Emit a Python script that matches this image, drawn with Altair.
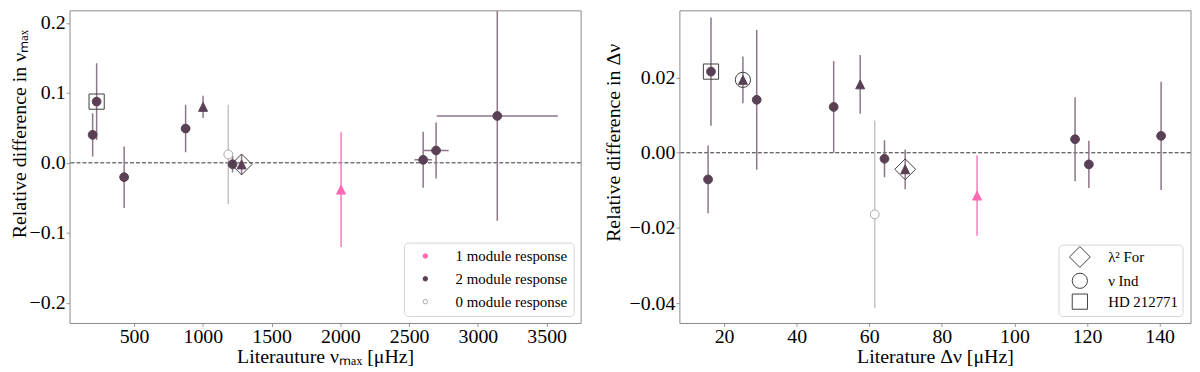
import altair as alt
import pandas as pd

# ---------------- left panel: nu_max ----------------
numax_lit = [199, 228, 428, 875, 1002, 1185, 1216, 1282, 2005, 2602, 2696, 3141]
numax_rel = [0.040, 0.0875, -0.0205, 0.049, 0.080, 0.012, -0.002, -0.0023, -0.0383, 0.0043, 0.0176, 0.067]
numax_yerr = [0.031, 0.055, 0.044, 0.034, 0.016, 0.071, 0.012, 0.015, 0.082, 0.040, 0.040, 0.150]
numax_xerr = [0, 0, 0, 0, 0, 0, 0, 0, 0, 63, 92, 440]
numax_marker = ["circle", "circle", "circle", "circle", "triangle", "circle",
                "circle", "triangle", "triangle", "circle", "circle", "circle"]
numax_modules = [2, 2, 2, 2, 2, 0, 2, 2, 1, 2, 2, 2]
numax_star = ["", "HD 212771", "", "", "", "", "", "λ² For", "", "", "", ""]
numax_xticks = [500, 1000, 1500, 2000, 2500, 3000, 3500]
numax_yticks = [-0.2, -0.1, 0.0, 0.1, 0.2]

# ---------------- right panel: delta nu ----------------
dnu_lit = [15.6, 16.4, 25.2, 29.0, 50.2, 57.5, 61.5, 64.2, 69.9, 89.7, 116.7, 120.5, 140.4]
dnu_rel = [-0.0071, 0.0216, 0.0194, 0.0141, 0.0122, 0.0182, -0.0164, -0.0016, -0.0044,
           -0.0114, 0.0036, -0.0031, 0.0045]
dnu_yerr = [0.009, 0.0144, 0.0062, 0.0186, 0.0122, 0.0078, 0.025, 0.0049, 0.0053,
            0.0107, 0.0112, 0.0063, 0.0144]
dnu_xerr = [0, 0, 0, 0, 0, 0, 0, 0, 0, 0, 0, 0, 1.0]
dnu_marker = ["circle", "circle", "triangle", "circle", "circle", "triangle", "circle",
              "circle", "triangle", "triangle", "circle", "circle", "circle"]
dnu_modules = [2, 2, 2, 2, 2, 2, 0, 2, 2, 1, 2, 2, 2]
dnu_star = ["", "HD 212771", "ν Ind", "", "", "", "", "", "λ² For", "", "", "", ""]
dnu_xticks = [20, 40, 60, 80, 100, 120, 140]
dnu_yticks = [-0.04, -0.02, 0.0, 0.02]

RESP = ["1 module response", "2 module response", "0 module response"]
FILL = ["#ff69b4", "#5a4055", "#ffffff"]
STROKE = ["#ff69b4", "#5a4055", "#a8a8a8"]
BAR_DOMAIN = ["0 module response", "1 module response", "2 module response"]
BAR = ["#c4c4c4", "#ff78bd", "#8d7688"]
STARS = ["λ² For", "ν Ind", "HD 212771"]
TRI = "M0,-1L-1,1L1,1Z"
DIAMOND = "M-1.37,0L0,-1.37L1.37,0L0,1.37Z"
FONT = "Liberation Serif"


def frame(lit, rel, yerr, xerr, marker, modules, star):
    return pd.DataFrame({
        "x": lit,
        "y": rel,
        "ylo": [r - e for r, e in zip(rel, yerr)],
        "yhi": [r + e for r, e in zip(rel, yerr)],
        "xlo": [v - e for v, e in zip(lit, xerr)],
        "xhi": [v + e for v, e in zip(lit, xerr)],
        "marker": marker,
        "resp": [f"{m} module response" for m in modules],
        "star": star,
    })


def panel(df, xdom, ydom, xticks, yticks, yfmt, xtitle, ytitle, title_y, title_pad,
          resp_legend, star_legend):
    xs = alt.Scale(domain=xdom, nice=False, zero=False)
    ys = alt.Scale(domain=ydom, nice=False, zero=False)
    xax = alt.Axis(values=xticks, format="d", title=xtitle)
    yax = alt.Axis(values=yticks, format=yfmt, title=ytitle, titleY=title_y, titlePadding=title_pad)

    def X(f):
        return alt.X(f"{f}:Q", scale=xs, axis=xax)

    def Y(f):
        return alt.Y(f"{f}:Q", scale=ys, axis=yax)

    base = alt.Chart(df)
    barcol = alt.Color("resp:N", scale=alt.Scale(domain=BAR_DOMAIN, range=BAR), legend=None)

    zero = alt.Chart(pd.DataFrame({"z": [0.0]})).mark_rule(
        color="#333333", strokeWidth=1, strokeDash=[4, 2]
    ).encode(y=Y("z"))

    ybar = base.mark_rule(strokeWidth=1.5, clip=True).encode(
        x=X("x"), y=Y("ylo"), y2="yhi", color=barcol)
    xbar = base.transform_filter("datum.xhi > datum.xlo").mark_rule(strokeWidth=1.5, clip=True).encode(
        x=X("xlo"), x2="xhi", y=Y("y"), color=barcol)

    if resp_legend:
        leg = alt.Legend(
            title=None, orient="bottom-right", offset=7, padding=6,
            labelFont=FONT, labelFontSize=15, labelColor="black",
            symbolSize=20, symbolType="circle", symbolStrokeWidth=1,
            strokeColor="#d5d5d5", fillColor="white", cornerRadius=4,
            rowPadding=7, labelOffset=23, symbolOffset=8,
        )
    else:
        leg = None
    fill = alt.Fill("resp:N", scale=alt.Scale(domain=RESP, range=FILL), legend=leg)
    stroke = alt.Stroke("resp:N", scale=alt.Scale(domain=RESP, range=STROKE), legend=leg)

    circ = base.transform_filter(alt.datum.marker == "circle").mark_point(
        shape="circle", size=78, opacity=1, strokeWidth=1
    ).encode(x=X("x"), y=Y("y"), fill=fill, stroke=stroke)

    tri = base.transform_filter(alt.datum.marker == "triangle").mark_point(
        shape=TRI, size=81, opacity=1, strokeWidth=1
    ).encode(x=X("x"), y=Y("y"), fill=fill, stroke=stroke)

    if star_legend:
        sleg = alt.Legend(
            title=None, orient="none", legendX=382, legendY=236, padding=4,
            labelFont=FONT, labelFontSize=15, labelColor="black",
            symbolSize=235, symbolStrokeWidth=1, symbolStrokeColor="#404040",
            symbolFillColor="transparent",
            strokeColor="#d5d5d5", fillColor="white", cornerRadius=4,
            rowPadding=0, labelOffset=20, symbolOffset=9,
        )
    else:
        sleg = None
    over = base.transform_filter("datum.star != ''").mark_point(
        filled=False, size=235, opacity=1, stroke="#404040", strokeWidth=1
    ).encode(
        x=X("x"), y=Y("y"),
        shape=alt.Shape("star:N", scale=alt.Scale(domain=STARS, range=[DIAMOND, "circle", "square"]),
                        legend=sleg),
    )

    return alt.layer(zero, ybar, xbar, circ, tri, over).properties(width=515, height=315)


left = panel(
    frame(numax_lit, numax_rel, numax_yerr, numax_xerr, numax_marker, numax_modules, numax_star),
    [31, 3747], [-0.229, 0.218], numax_xticks, numax_yticks, ".1f",
    "Literauture νₘₐₓ [μHz]", "Relative difference in νₘₐₓ", 124, 0, True, False,
)
right = panel(
    frame(dnu_lit, dnu_rel, dnu_yerr, dnu_xerr, dnu_marker, dnu_modules, dnu_star),
    [7.7, 148.5], [-0.0453, 0.0379], dnu_xticks, dnu_yticks, ".2f",
    "Literature Δν [μHz]", "Relative difference in Δν", 133, 6, False, True,
)

chart = alt.HConcatChart(hconcat=[left, right], spacing=99.5, bounds="flush").resolve_scale(
    fill="independent", stroke="independent", shape="independent", color="independent",
    x="independent", y="independent",
).resolve_legend(
    fill="independent", stroke="independent", shape="independent", color="independent",
).properties(
    padding=0, background="white"
).configure(
    font=FONT
).configure_view(
    stroke="#8a8a8a", strokeWidth=1
).configure_legend(
    labelFont=FONT, labelFontSize=15, labelColor="black",
).configure_axis(
    labelFont=FONT, labelFontSize=20, labelColor="black",
    titleFont=FONT, titleFontSize=20, titleFontWeight="normal", titleColor="black",
    domain=False, grid=False, tickColor="#808080", tickSize=3.5, tickWidth=0.8,
).configure_axisX(
    labelPadding=0, titlePadding=0,
).configure_axisY(
    labelPadding=1,
)

chart.save("out.html", embed_options={"renderer": "svg", "actions": False})
